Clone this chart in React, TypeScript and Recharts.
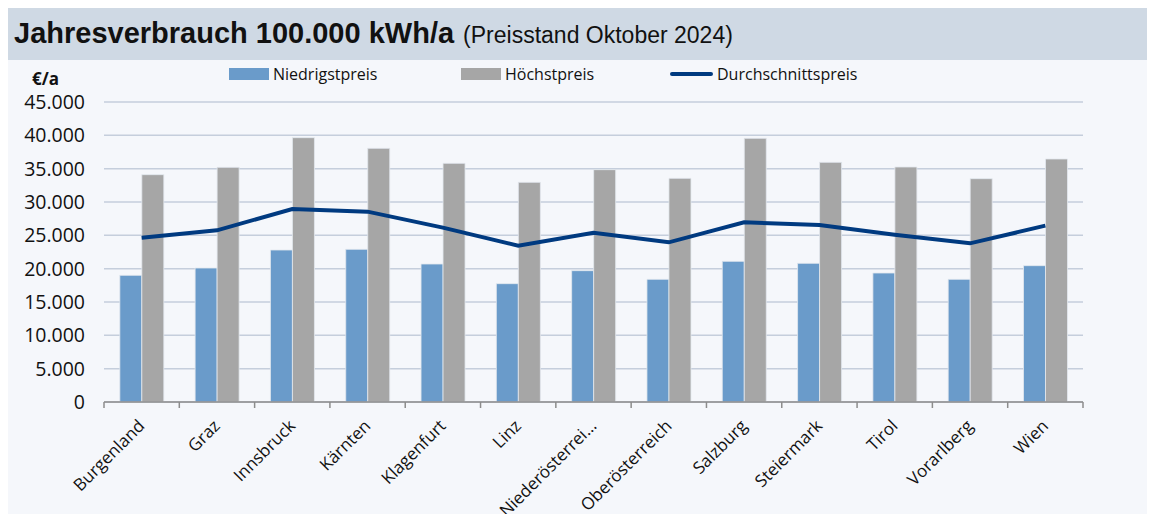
import React from "react";
import {
  ComposedChart,
  Bar,
  Line,
  XAxis,
  YAxis,
  CartesianGrid,
} from "recharts";

// Werte (€/a)
const regions = [
  "Burgenland",
  "Graz",
  "Innsbruck",
  "Kärnten",
  "Klagenfurt",
  "Linz",
  "Niederösterrei…",
  "Oberösterreich",
  "Salzburg",
  "Steiermark",
  "Tirol",
  "Vorarlberg",
  "Wien",
];
const niedrigst = [19000, 20100, 22800, 22900, 20700, 17750, 19700, 18400, 21100, 20800, 19350, 18400, 20450];
const hoechst = [34100, 35200, 39650, 38050, 35800, 32950, 34850, 33550, 39550, 35950, 35250, 33500, 36450];
const durchschnitt = [24650, 25750, 28950, 28550, 26150, 23450, 25400, 23950, 26950, 26550, 25100, 23800, 26450];
const yTicks = [0, 5000, 10000, 15000, 20000, 25000, 30000, 35000, 40000, 45000];

const data = regions.map((name, i) => ({
  name,
  niedrigst: niedrigst[i],
  hoechst: hoechst[i],
  durchschnitt: durchschnitt[i],
}));

const BLUE = "#6a9bca";
const GRAY = "#a6a6a6";
const NAVY = "#003a80";
const FONT = "'Open Sans', sans-serif";

const fmt = (v: number) => v.toLocaleString("de-DE");

function XTick(props: any) {
  const { x, y, payload, index } = props;
  const half = payload?.offset ?? 37.6;
  const last = index === regions.length - 1;
  const tx = x + 4;
  const ty = y + 17;
  return (
    <g>
      <line x1={x - half} x2={x - half} y1={y - 8} y2={y - 2} stroke="#8c8c8c" strokeWidth={1.5} />
      {last && (
        <line x1={x + half} x2={x + half} y1={y - 8} y2={y - 2} stroke="#8c8c8c" strokeWidth={1.5} />
      )}
      <text
        x={tx}
        y={ty}
        textAnchor="end"
        transform={`rotate(-45 ${tx} ${ty})`}
        fontFamily={FONT}
        fontSize={17}
        fill="#111"
      >
        {payload.value}
      </text>
    </g>
  );
}

function YTick(props: any) {
  const { y, payload } = props;
  return (
    <text x={85} y={y} dy={7} textAnchor="end" fontFamily={FONT} fontSize={19.5} fill="#111">
      {fmt(payload.value)}
    </text>
  );
}

function LegendRow() {
  const item = (left: number, swatch: React.ReactNode, label: string) => (
    <div style={{ position: "absolute", left, top: 63, display: "flex", alignItems: "center", height: 22 }}>
      {swatch}
      <span style={{ marginLeft: 4, fontFamily: FONT, fontSize: 16, color: "#111" }}>{label}</span>
    </div>
  );
  return (
    <>
      {item(229, <div style={{ width: 40, height: 12, background: BLUE }} />, "Niedrigstpreis")}
      {item(461, <div style={{ width: 40, height: 12, background: GRAY }} />, "Höchstpreis")}
      {item(670, <div style={{ width: 43, height: 4, borderRadius: 2, background: NAVY }} />, "Durchschnittspreis")}
    </>
  );
}

export default function App() {
  return (
    <div style={{ position: "relative", width: 1155, height: 522, margin: -8, background: "#fff", overflow: "hidden" }}>
      {/* Titelleiste */}
      <div
        style={{
          position: "absolute",
          left: 5,
          top: 7,
          width: 1150,
          height: 53,
          background: "#cfd9e4",
          display: "flex",
          alignItems: "center",
          paddingLeft: 9,
          boxSizing: "border-box",
          whiteSpace: "nowrap",
        }}
      >
        <span style={{ fontFamily: "'Liberation Sans', sans-serif", fontWeight: 700, fontSize: 29, color: "#111" }}>
          Jahresverbrauch 100.000 kWh/a
        </span>
        <span style={{ fontFamily: "'Liberation Sans', sans-serif", fontSize: 23, color: "#111", marginLeft: 9, marginTop: 3 }}>
          (Preisstand Oktober 2024)
        </span>
      </div>
      {/* Diagrammfläche */}
      <div
        style={{
          position: "absolute",
          left: 5,
          top: 60,
          width: 1150,
          height: 462,
          background: "#f5f7fb",
          borderLeft: "2px solid #dfe5ee",
          boxSizing: "border-box",
        }}
      />
      <div style={{ position: "absolute", left: 0, top: 0 }}>
        <ComposedChart
          width={1155}
          height={522}
          data={data}
          margin={{ top: 102, right: 72, bottom: 0, left: 44 }}
          barCategoryGap="21%"
          barGap={0}
        >
          <CartesianGrid vertical={false} stroke="#c5cedc" strokeWidth={1.5} />
          <XAxis
            dataKey="name"
            interval={0}
            height={120}
            tickLine={false}
            axisLine={{ stroke: "#8c8c8c", strokeWidth: 1.5 }}
            tick={<XTick />}
          />
          <YAxis
            width={60}
            domain={[0, 45000]}
            ticks={yTicks}
            axisLine={false}
            tickLine={false}
            tick={<YTick />}
          />
          <Bar dataKey="niedrigst" fill={BLUE} stroke="#e3e8ef" strokeWidth={0.8} isAnimationActive={false} />
          <Bar dataKey="hoechst" fill={GRAY} stroke="#e3e8ef" strokeWidth={0.8} isAnimationActive={false} />
          <Line
            dataKey="durchschnitt"
            type="linear"
            stroke={NAVY}
            strokeWidth={4}
            dot={false}
            activeDot={false}
            isAnimationActive={false}
          />
        </ComposedChart>
      </div>
      <div style={{ position: "absolute", left: 32, top: 67, fontFamily: FONT, fontWeight: 700, fontSize: 17, color: "#111" }}>€/a</div>
      <LegendRow />
    </div>
  );
}
